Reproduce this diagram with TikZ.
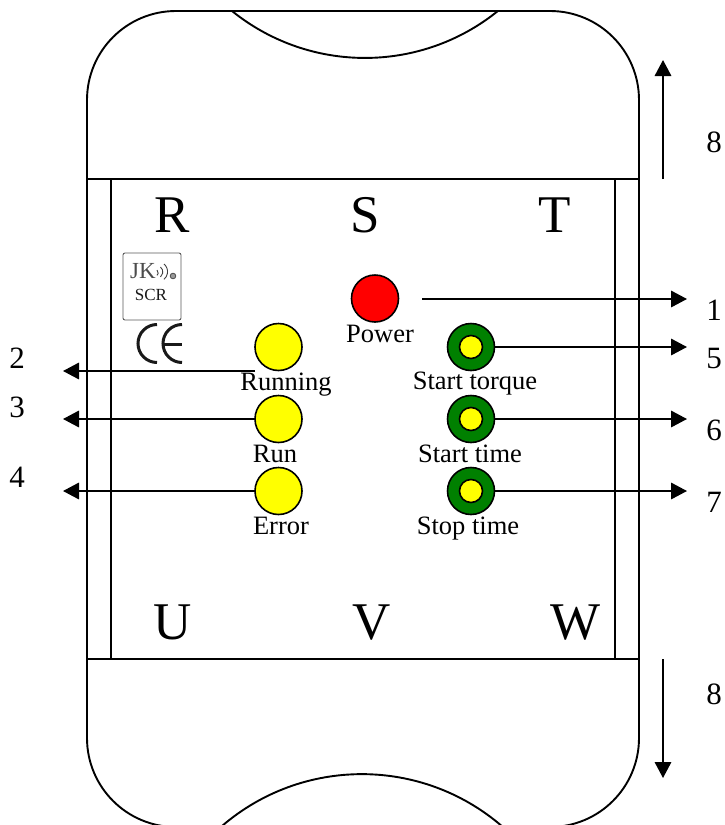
\documentclass[tikz,border=0pt]{standalone}
\usepackage{fontspec}
\setmainfont{Liberation Serif}
\usetikzlibrary{arrows.meta}
\definecolor{ledyellow}{RGB}{255,255,0}
\definecolor{ledred}{RGB}{255,0,0}
\definecolor{ledgreen}{RGB}{0,128,0}
\tikzset{
  body/.style={draw=black,line width=1.9pt},
  led/.style={circle,draw=black,line width=1.6pt,minimum size=47pt,inner sep=0pt,outer sep=0pt},
  yled/.style={led,fill=ledyellow},
  rled/.style={led,fill=ledred},
  gled/.style={led,fill=ledgreen},
  inled/.style={circle,draw=black,line width=1.6pt,fill=ledyellow,minimum size=23pt,inner sep=0pt,outer sep=0pt},
  lab/.style={anchor=base,inner sep=0pt,font=\fontsize{26.5}{30}\selectfont},
  big/.style={anchor=base,inner sep=0pt,font=\fontsize{53}{56}\selectfont},
  num/.style={anchor=base,inner sep=0pt,font=\fontsize{31}{34}\selectfont},
  lead/.style={draw=black,line width=1.8pt,-{Triangle[length=16pt,width=16.5pt]}}
}
\begin{document}
\begin{tikzpicture}[x=1pt,y=-1pt]
\clip (0,0) rectangle (724,825);
% body
\draw[body,rounded corners=89pt] (87,11) rectangle (639,827);
\draw[body] (232,11) arc[start angle=128.9,end angle=51.1,radius=211.7];
\draw[body] (222,826) arc[start angle=229.3,end angle=310.7,radius=214.5];
\draw[body] (87,179) -- (639,179);
\draw[body] (87,659) -- (639,659);
\draw[body] (111,179) -- (111,659);
\draw[body] (615,179) -- (615,659);
% terminals
\node[big] (tR) at (172,232) {R};
\node[big] (tS) at (365,232) {S};
\node[big] (tT) at (555,232) {T};
\node[big] (tU) at (173,639.5) {U};
\node[big] (tV) at (372,639.5) {V};
\node[big] (tW) at (576,639.5) {W};
% logo
\draw[draw=black!65,line width=0.9pt,rounded corners=2pt] (123,253) rectangle (181,320);
\node[anchor=base,inner sep=0pt,text=black!70,font=\fontsize{23}{25}\selectfont] (jk) at (143,278) {JK};
\draw[black!75,line width=0.9pt] (157,270) arc[start angle=-50,end angle=50,radius=3.5];
\draw[black!75,line width=0.9pt] (160.5,267) arc[start angle=-50,end angle=50,radius=6.5];
\draw[black!75,line width=0.9pt] (164,264) arc[start angle=-50,end angle=50,radius=10];
\draw[black!70,fill=black!40,line width=0.8pt] (173,276) circle[radius=2.8];
\node[anchor=base,inner sep=0pt,text=black!90,font=\fontsize{17}{19}\selectfont] (scr) at (151,300) {SCR};
% CE mark
\draw[black!90,line width=3pt] (157,324.5) arc[start angle=-90,end angle=-270,radius=19];
\draw[black!90,line width=3pt] (182,324.5) arc[start angle=-90,end angle=-270,radius=19];
\draw[black!90,line width=3pt] (163,344) -- (182,344);
% leds
\node[rled] (power) at (375,298.5) {};
\node[yled] (running) at (278.5,347) {};
\node[yled] (run) at (278.5,419) {};
\node[yled] (error) at (278.5,491) {};
\node[gled] (torque) at (471,347) {};
\node[gled] (stime) at (471,419) {};
\node[gled] (etime) at (471,491) {};
\node[inled] (torquei) at (471,347) {};
\node[inled] (stimei) at (471,419) {};
\node[inled] (etimei) at (471,491) {};
% labels
\node[lab] (lPower) at (380,342) {Power};
\node[lab] (lRunning) at (286,390) {Running};
\node[lab] (lRun) at (275,462) {Run};
\node[lab] (lError) at (281,534) {Error};
\node[lab] (lTorque) at (475,389) {Start torque};
\node[lab] (lStime) at (470,462) {Start time};
\node[lab] (lEtime) at (468,534) {Stop time};
% numbers
\node[num] (n1) at (714,320) {1};
\node[num] (n5) at (714,368) {5};
\node[num] (n6) at (714,440) {6};
\node[num] (n7) at (714,512) {7};
\node[num] (n2) at (17,368) {2};
\node[num] (n3) at (17,417) {3};
\node[num] (n4) at (17,487) {4};
\node[num] (n8a) at (714,152) {8};
\node[num] (n8b) at (714,704.5) {8};
% free ends
\coordinate (a1s) at (422,299);
\coordinate (a1e) at (687,299);
\coordinate (a5e) at (687,347);
\coordinate (a6e) at (687,419);
\coordinate (a7e) at (687,491);
\coordinate (a2s) at (255,371);
\coordinate (a2e) at (63,371);
\coordinate (a3e) at (63,419);
\coordinate (a4e) at (63,491);
\coordinate (u1) at (663,179);
\coordinate (u2) at (663,60);
\coordinate (d1) at (663,659);
\coordinate (d2) at (663,778);
% connectors
\draw[lead] (a1s) -- (a1e);
\draw[lead] (torque.east) -- (a5e);
\draw[lead] (stime.east) -- (a6e);
\draw[lead] (etime.east) -- (a7e);
\draw[lead] (a2s) -- (a2e);
\draw[lead] (run.west) -- (a3e);
\draw[lead] (error.west) -- (a4e);
\draw[lead] (u1) -- (u2);
\draw[lead] (d1) -- (d2);
\end{tikzpicture}
\end{document}
